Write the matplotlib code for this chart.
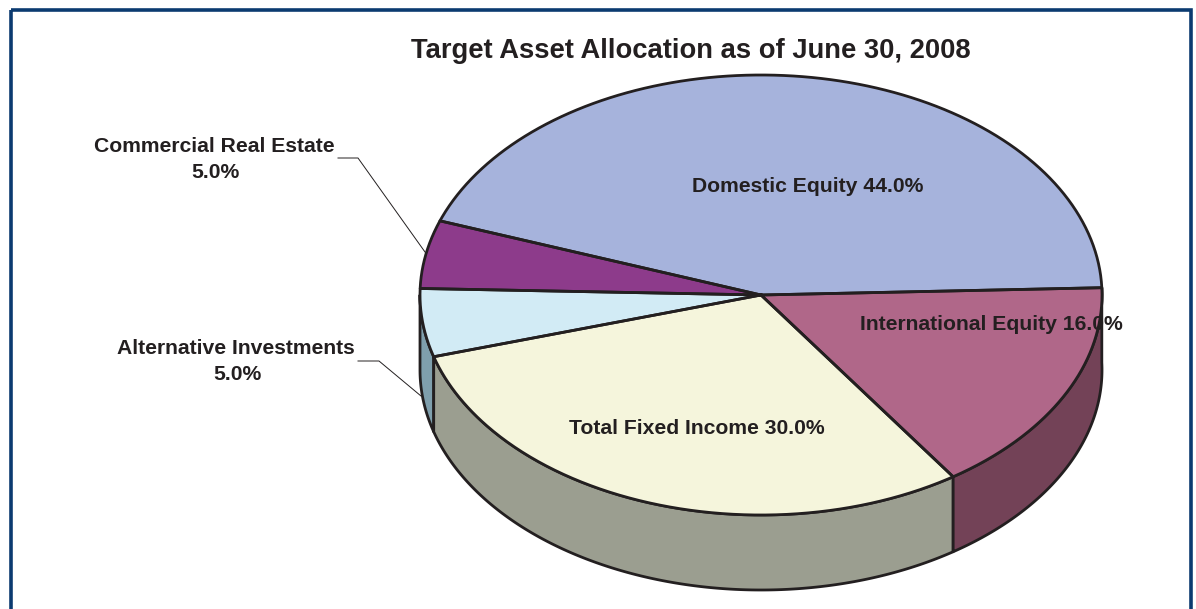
import numpy as np
import matplotlib
matplotlib.use('Agg')
import matplotlib.pyplot as plt
from matplotlib.patches import Rectangle

plt.rcParams['font.family'] = ['Liberation Sans', 'DejaVu Sans']

# counter-clockwise from the right edge of the pie
categories = ['Domestic Equity', 'Commercial Real Estate', 'Alternative Investments',
              'Total Fixed Income', 'International Equity']
shares = [44.0, 5.0, 5.0, 30.0, 16.0]
top_colors = ['#a6b3dc', '#8d3b8b', '#d2ebf5', '#f5f5dc', '#b06789']
side_colors = ['#6f7a99', '#5f2a5e', '#7f9fad', '#9b9e90', '#734257']
title = 'Target Asset Allocation as of June 30, 2008'

TEXT = '#231f20'
EDGE = '#231f20'
LABEL_SIZE = 15.2
cx, cy, rx, ry, depth = 761, 295, 341, 220, 75
start = 1.9


def ell(t):
    t = np.radians(t)
    return cx + rx * np.cos(t), cy - ry * np.sin(t)


def label(x, y, s):
    ax.text(x, y, s, ha='center', va='center', fontsize=LABEL_SIZE,
            fontweight='bold', color=TEXT, zorder=4)


fig = plt.figure(figsize=(11.96, 6.09), dpi=100)
ax = fig.add_axes([0, 0, 1, 1])
ax.set_xlim(0, 1196)
ax.set_ylim(609, 0)
ax.axis('off')

# frame runs off the bottom of the picture
ax.add_patch(Rectangle((10.5, 9.5), 1180.5, 640, fill=False, ec='#0b3a70', lw=2.6, zorder=1))

angles = start + np.cumsum([0] + shares) * 3.6

# side walls, only the front half (180..360) shows
for i in range(len(shares)):
    a0, a1 = max(angles[i], 180), min(angles[i + 1], 360)
    if i == len(shares) - 1:
        a1 = 360 + start
    if a1 <= a0:
        continue
    t = np.linspace(a0, a1, 200)
    x, y = ell(t)
    ax.fill(np.r_[x, x[::-1]], np.r_[y, y[::-1] + depth], fc=side_colors[i], ec=EDGE, lw=2,
            joinstyle='round', zorder=2)

# top faces
for i in range(len(shares)):
    t = np.linspace(angles[i], angles[i + 1], 300)
    x, y = ell(t)
    ax.fill(np.r_[cx, x], np.r_[cy, y], fc=top_colors[i], ec='none', zorder=3)

# labels sit under the outlines, the rim cuts through the 16.0%
label(808, 186, f'{categories[0]} {shares[0]:.1f}%')
label(991, 325, f'{categories[4]} {shares[4]:.1f}%')
label(697, 429, f'{categories[3]} {shares[3]:.1f}%')
label(214, 146, categories[1])
label(215, 172, f'{shares[1]:.1f}%')
label(236, 348, categories[2])
label(237, 374, f'{shares[2]:.1f}%')
ax.text(691, 51.5, title, ha='center', va='center', fontsize=19.7,
        fontweight='bold', color=TEXT, zorder=4)

# slice outlines on top
for i in range(len(shares)):
    t = np.linspace(angles[i], angles[i + 1], 300)
    x, y = ell(t)
    ax.plot(np.r_[cx, x, cx], np.r_[cy, y, cy], color=EDGE, lw=2, zorder=5, solid_joinstyle='round')

# leader lines
ax.plot([338, 358, 425], [158, 158, 252], color=EDGE, lw=0.7, zorder=5)
ax.plot([358, 379, 421], [361, 361, 396], color=EDGE, lw=0.7, zorder=5)

fig.savefig('out.png', dpi=100)
